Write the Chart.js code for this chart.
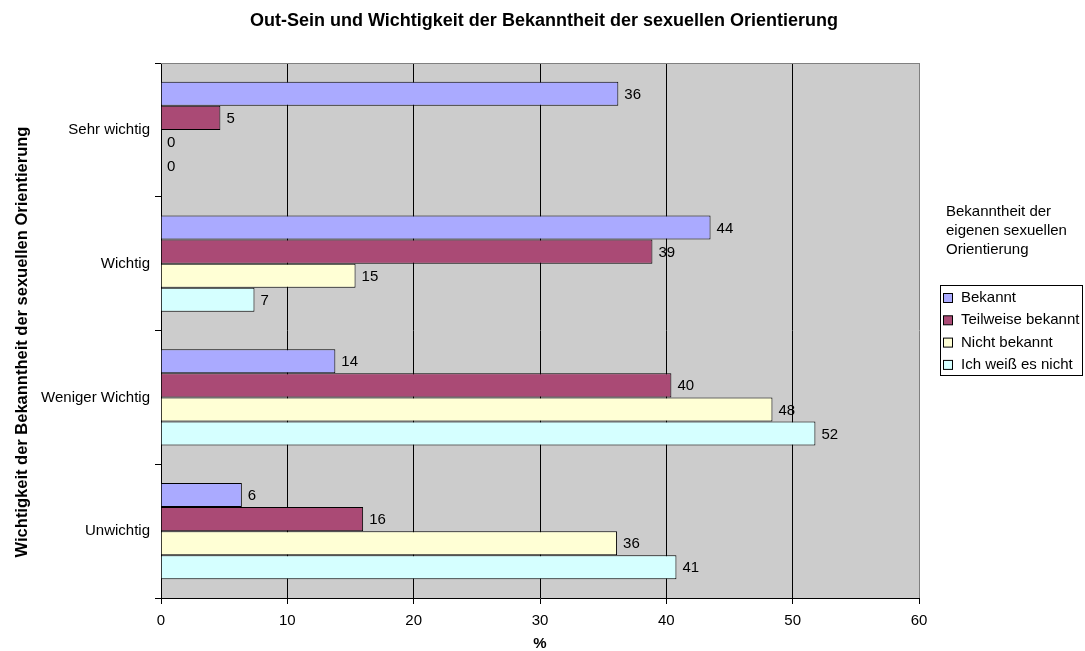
<!DOCTYPE html>
<html>
<head>
<meta charset="utf-8">
<script src="https://cdn.jsdelivr.net/npm/chart.js@4/dist/chart.umd.min.js"></script>
<style>
  body { margin: 0; background: #fff; }
  canvas { display: block; }
</style>
</head>
<body>
<canvas id="barChart" width="1085" height="651"></canvas>
<script>
const chartTitle = "Out-Sein und Wichtigkeit der Bekanntheit der sexuellen Orientierung";
const yTitle = "Wichtigkeit der Bekanntheit der sexuellen Orientierung";
const categories = ["Sehr wichtig", "Wichtig", "Weniger Wichtig", "Unwichtig"];
const seriesNames = ["Bekannt", "Teilweise bekannt", "Nicht bekannt", "Ich weiß es nicht"];
const bekannt = [36.2, 43.5, 13.8, 6.4];
const teilweise = [4.7, 38.9, 40.4, 16.0];
const nichtBekannt = [0, 15.4, 48.4, 36.1];
const weissNicht = [0, 7.4, 51.8, 40.8];
const xTicks = [0, 10, 20, 30, 40, 50, 60];
const colors = ["#aaaaff", "#aa4a75", "#ffffd5", "#d5ffff"];

const FONT = "'Liberation Sans', Arial, sans-serif";

// Hintergrund + oberer Rahmen der Zeichenfläche, Titel
const plotBg = {
  id: "plotBg",
  beforeDraw(chart) {
    const { ctx, chartArea: a } = chart;
    ctx.save();
    ctx.fillStyle = "#cccccc";
    ctx.fillRect(a.left, a.top, a.right - a.left, a.bottom - a.top);
    ctx.fillStyle = "#000";
    ctx.font = "bold 18px " + FONT;
    ctx.textAlign = "center";
    ctx.textBaseline = "middle";
    ctx.fillText(chartTitle, 544, 21);
    // Achsentitel links, gedreht
    ctx.translate(22, 342);
    ctx.rotate(-Math.PI / 2);
    ctx.font = "bold 16.5px " + FONT;
    ctx.fillText(yTitle, 0, 0);
    ctx.restore();
  },
  beforeDatasetsDraw(chart) {
    const { ctx, chartArea: a } = chart;
    ctx.save();
    ctx.strokeStyle = "#808080";
    ctx.lineWidth = 1;
    ctx.beginPath();
    ctx.moveTo(a.left, a.top + 0.5);
    ctx.lineTo(a.right, a.top + 0.5);
    ctx.stroke();
    ctx.restore();
  }
};

// Werte neben den Balken
const valueLabels = {
  id: "valueLabels",
  afterDatasetsDraw(chart) {
    const ctx = chart.ctx;
    ctx.save();
    ctx.font = "15px " + FONT;
    ctx.fillStyle = "#000";
    ctx.textBaseline = "middle";
    ctx.textAlign = "left";
    chart.data.datasets.forEach((ds, i) => {
      chart.getDatasetMeta(i).data.forEach((bar, j) => {
        ctx.fillText(String(Math.round(ds.data[j])), bar.x + 6, bar.y + 1);
      });
    });
    ctx.restore();
  }
};

// Legende rechts mit Titel
const sideLegend = {
  id: "sideLegend",
  afterDraw(chart) {
    const ctx = chart.ctx;
    ctx.save();
    ctx.font = "15px " + FONT;
    ctx.fillStyle = "#000";
    ctx.textBaseline = "middle";
    ["Bekanntheit der", "eigenen sexuellen", "Orientierung"].forEach((t, i) => {
      ctx.fillText(t, 946, 212 + i * 19);
    });
    ctx.strokeStyle = "#000";
    ctx.lineWidth = 1;
    ctx.strokeRect(940.5, 285.5, 142, 90);
    seriesNames.forEach((name, i) => {
      const y = 298 + i * 22.3;
      ctx.fillStyle = colors[i];
      ctx.fillRect(943.5, y - 4.5, 9, 9);
      ctx.strokeRect(943.5, y - 4.5, 9, 9);
      ctx.fillStyle = "#000";
      ctx.fillText(name, 961, y);
    });
    ctx.restore();
  }
};

const seriesData = [bekannt, teilweise, nichtBekannt, weissNicht];

new Chart(document.getElementById("barChart"), {
  type: "bar",
  data: {
    labels: categories,
    datasets: seriesData.map((d, i) => ({
      label: seriesNames[i],
      data: d,
      backgroundColor: colors[i],
      borderColor: "#000",
      borderWidth: 1,
      borderSkipped: "start",
      categoryPercentage: 0.72,
      barPercentage: 1.0
    }))
  },
  options: {
    indexAxis: "y",
    responsive: false,
    animation: false,
    layout: { padding: { left: 0, right: 166, top: 63, bottom: 0 } },
    plugins: {
      legend: { display: false },
      tooltip: { enabled: false },
      title: { display: false }
    },
    scales: {
      x: {
        min: 0,
        max: 60,
        afterBuildTicks(scale) {
          scale.ticks = xTicks.map(v => ({ value: v }));
        },
        afterFit(scale) { scale.height = 53; },
        grid: {
          color: c => (c.tick && c.tick.value === 60 ? "#808080" : "#000"),
          lineWidth: 1,
          tickLength: 6,
          tickColor: "#000"
        },
        border: { display: true, color: "#000", width: 1 },
        ticks: {
          color: "#000",
          padding: 8,
          maxRotation: 0,
          font: { family: FONT, size: 15 }
        },
        title: {
          display: true,
          text: "%",
          color: "#000",
          font: { family: FONT, size: 15, weight: "bold", lineHeight: 1.0 },
          padding: { top: 0, bottom: 0 }
        }
      },
      y: {
        afterFit(scale) { scale.width = 161; },
        grid: {
          offset: true,
          drawOnChartArea: false,
          tickLength: 6,
          tickColor: "#000"
        },
        border: { display: true, color: "#000", width: 1 },
        ticks: {
          color: "#000",
          padding: 5,
          font: { family: FONT, size: 15 }
        }
      }
    }
  },
  plugins: [plotBg, valueLabels, sideLegend]
});
</script>
</body>
</html>
